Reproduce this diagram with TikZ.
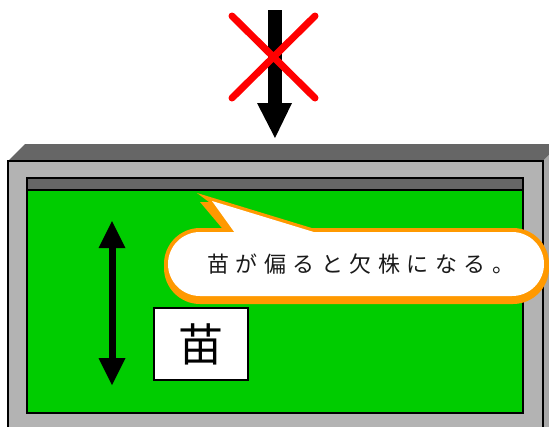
\documentclass[tikz,border=0pt]{standalone}
\usepackage{fontspec}
\newfontfamily\jp{Noto Sans CJK JP}
\definecolor{topgray}{HTML}{666666}
\definecolor{framegray}{HTML}{B3B3B3}
\definecolor{sidegray}{HTML}{A8A8A8}
\definecolor{fieldgreen}{HTML}{00CC00}
\definecolor{calloutorange}{HTML}{FF9900}
\definecolor{msggray}{HTML}{1A1A1A}
\newcommand{\jsp}{\kern6.5pt}
\tikzset{
  outline/.style={draw=black, line width=2pt},
  blackfill/.style={fill=black},
  cross/.style={draw=red, line width=7pt, line cap=round},
}
\begin{document}
\begin{tikzpicture}[x=1pt,y=-1pt]
\useasboundingbox (0,0) rectangle (549,426);
\clip (0,0) rectangle (549,426);
% cabinet
\fill[topgray] (8,161) -- (25,144) -- (560,144) -- (543,161) -- cycle;
\fill[sidegray] (543,161) -- (560,144) -- (560,450) -- (543,450) -- cycle;
\draw[outline, fill=framegray] (8,161) rectangle (543,440);
\fill[fieldgreen] (27,190) rectangle (523,413);
\fill[topgray] (27,178) rectangle (523,190);
\draw[outline] (27,178) rectangle (523,413);
\draw[outline] (27,190) -- (523,190);
% top arrow with cross
\fill[blackfill] (268,10) rectangle (282,104);
\fill[blackfill] (257,103) -- (292,103) -- (275,138) -- cycle;
\draw[cross] (232,16) -- (315,98) (315,16) -- (232,98);
% double arrow
\fill[blackfill] (108.5,247) rectangle (115.5,359);
\fill[blackfill] (112,221) -- (125.5,248) -- (98.5,248) -- cycle;
\fill[blackfill] (112,385) -- (125.5,358) -- (98.5,358) -- cycle;
% seedling box
\node[draw, line width=1.5pt, fill=white, minimum width=94pt, minimum height=72pt, inner sep=0pt,
      font=\jp\fontsize{45}{45}\selectfont] (nae) at (201,344) {苗};
% callout
\fill[calloutorange, rounded corners=36pt] (164,228) rectangle (549,304);
\fill[calloutorange] (197,193) -- (209,202) -- (200,202) -- (232,240) -- (351,240) -- cycle;
\fill[white, rounded corners=32pt] (168,232) rectangle (544,296);
\fill[white] (212,201) -- (240,240) -- (340,240) -- cycle;
\node[font=\jp\fontsize{22}{22}\selectfont, text=msggray, inner sep=0pt] (msg) at (361,264)
  {苗\jsp が\jsp 偏\jsp る\jsp と\jsp 欠\jsp 株\jsp に\jsp な\jsp る\jsp 。};
\end{tikzpicture}
\end{document}
